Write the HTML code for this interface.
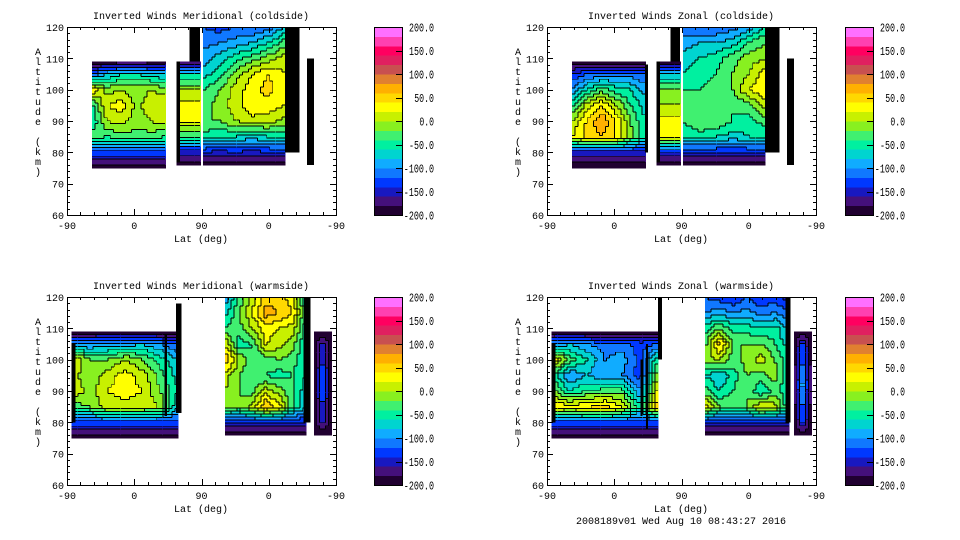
<!DOCTYPE html>
<html><head><meta charset="utf-8">
<style>
html,body{margin:0;padding:0;background:#fff;}
svg{display:block;font-family:"Liberation Mono","DejaVu Sans Mono",monospace;}
</style></head>
<body>
<svg id="fig" width="960" height="540" viewBox="0 0 960 540" xmlns="http://www.w3.org/2000/svg"></svg>
<script>
// ---- colour levels (-200..200, 20 bands, bottom to top) ----
const levelColors=["#200030","#44107a","#1818c0","#0038ff","#1078ff","#10acff","#00d4d0","#00f0a0","#40f070","#88f020","#c8f000","#ffff00","#ffd800","#ffb000","#e08030","#c85050","#e02060","#ff0060","#ff40b0","#ff70ff"];
const colorbarLabels=["200.0","150.0","100.0","50.0","0.0","-50.0","-100.0","-150.0","-200.0"];
const xTickLabels=["-90","0","90","0","-90"];
const yTickLabels=["60","70","80","90","100","110","120"];

// ---- Panel 1: meridional coldside ----
const p1AAlts=[75,80,85,90,95,100,105,109];
const p1AVals=[[-195],[-130],[-30,-40,-30,-30,-30,-40],[-60,0,10,-10,0,10],[-50,20,30,-5,10,20],[40,-10,0,-10,0,-10],[-120,-80,-60,-60,-70,-80],[-195]];
const p1BAlts=[76,80,85,90,95,100,105,109];
const p1BVals=[[-195],[-150],[-40],[20],[30],[0],[-60],[-195]];
const p1CAlts=[76,80,85,90,95,100,105,110,115,120];
const p1CVals=[[-195],[-140,-150,-140,-150,-140,-140],[-50,-60,-60,-70,-60,-60],[-20,-20,0,10,10,-10],[-30,-10,10,40,30,20],[-40,-20,10,30,50,20],[-70,-50,-10,20,40,20],[-90,-70,-50,-30,-10,10],[-110,-100,-90,-80,-60,-30],[-120,-130,-120,-120,-110,-80]];
const p1Black=[[1.63,1.68,77,109],[1.82,1.98,109,120],[3.24,3.46,80,120],[3.57,3.67,76,110]];

// ---- Panel 2: zonal coldside ----
const p2AAlts=[75,80,85,90,95,100,105,109];
const p2AVals=[[-195],[-150],[20,50,60,40,-10,-60],[0,40,80,40,-20,-60],[-50,10,40,0,-40,-70],[-100,-60,-30,-50,-60,-90],[-140,-120,-110,-110,-110,-120],[-195]];
const p2BAlts=[76,80,85,90,95,100,105,109];
const p2BVals=[[-195],[-150],[40],[30],[0],[-10],[-80],[-195]];
const p2CAlts=[76,80,85,90,95,100,105,110,115,120];
const p2CVals=[[-195],[-140],[-60,-50,-60,-70,-60,-60],[-40,-20,-20,-40,-50,-30],[-40,-30,-40,-40,-30,10],[-40,-40,-30,-20,20,40],[-60,-50,-40,-20,0,30],[-70,-60,-50,-30,-10,0],[-90,-80,-80,-70,-40,-20],[-110,-120,-120,-110,-90,-60]];
const p2Black=[[1.46,1.5,80,108],[1.63,1.68,77,109],[1.84,1.98,109,120],[3.24,3.46,80,120],[3.57,3.67,76,110]];

// ---- Panel 3: meridional warmside ----
const p3AAlts=[75,80,85,90,95,100,105,109];
const p3AVals=[[-195],[-130],[-30,-20,10,10,10,0,-80],[20,-10,20,30,20,-20,-60],[10,-20,10,30,10,-30,-70],[30,-20,-20,0,-20,-50,-80],[-100,-100,-90,-90,-80,-100,-120],[-195]];
const p3CAlts=[76,80,85,90,95,100,105,110,115,120];
const p3CVals=[[-195],[-140],[-10,-20,10,60,30,-40,-80],[0,-20,-30,10,-10,-40,-70],[10,-20,-30,-40,-50,-40,-60],[60,0,-40,-30,-20,-30,-60],[20,-50,-40,20,10,-10,-60],[-40,-30,0,30,20,10,-50],[-70,-20,20,70,60,40,-40],[-100,-40,10,50,50,30,-60]];
const p3DAlts=[76,80,92,105,109];
const p3DVals=[[-195],[-195,-150,-195],[-195,-110,-195],[-195,-150,-195],[-195]];
const p3Black=[[0.07,0.13,80,105],[1.45,1.49,82,108],[1.62,1.7,83,118],[3.52,3.62,80,120]];

// ---- Panel 4: zonal warmside ----
const p4AAlts=[75,80,85,90,95,100,105,109];
const p4AVals=[[-195],[-130],[40,30,40,50,20,-60,60],[-10,-60,-40,-30,-30,-100,30],[-40,-100,-80,-100,-100,-130,0],[40,-30,-60,-100,-90,-130,-40],[-100,-80,-100,-110,-110,-130,-120],[-195]];
const p4CAlts=[76,80,85,90,95,100,105,110,115,120];
const p4CVals=[[-195],[-140],[30,-20,-20,-20,20,10,-60],[-30,-60,-40,-20,-60,-30,-60],[-60,-80,-50,-20,-30,-10,-60],[-10,0,-30,-10,10,-20,-60],[-30,50,-20,-20,-20,-40,-70],[-50,-20,-50,-50,-60,-50,-90],[-100,-90,-100,-90,-110,-100,-120],[-120,-130,-140,-120,-140,-130,-150]];
const p4DAlts=[76,80,92,105,109];
const p4DVals=[[-195],[-195,-130,-195],[-195,-80,-195],[-195,-130,-195],[-195]];
const p4Black=[[0.07,0.13,80,105],[1.39,1.42,82,100],[1.47,1.5,78,105],[1.65,1.71,100,120],[3.55,3.62,80,120]];

const panels=[
 {ox:0,oy:0,name:"meridional-coldside",title:"Inverted Winds Meridional (coldside)",blocks:[{u:[0.37,1.46],alts:p1AAlts,vals:p1AVals},{u:[1.63,1.98],alts:p1BAlts,vals:p1BVals},{u:[2.02,3.24],alts:p1CAlts,vals:p1CVals}],black:p1Black},
 {ox:480,oy:0,name:"zonal-coldside",title:"Inverted Winds Zonal (coldside)",blocks:[{u:[0.37,1.46],alts:p2AAlts,vals:p2AVals},{u:[1.63,1.98],alts:p2BAlts,vals:p2BVals},{u:[2.02,3.24],alts:p2CAlts,vals:p2CVals}],black:p2Black},
 {ox:0,oy:270,name:"meridional-warmside",title:"Inverted Winds Meridional (warmside)",blocks:[{u:[0.07,1.65],alts:p3AAlts,vals:p3AVals},{u:[2.35,3.55],alts:p3CAlts,vals:p3CVals},{u:[3.67,3.93],alts:p3DAlts,vals:p3DVals}],black:p3Black},
 {ox:480,oy:270,name:"zonal-warmside",title:"Inverted Winds Zonal (warmside)",blocks:[{u:[0.07,1.65],alts:p4AAlts,vals:p4AVals},{u:[2.35,3.6],alts:p4CAlts,vals:p4CVals},{u:[3.67,3.93],alts:p4DAlts,vals:p4DVals}],black:p4Black}
];

const NS="http://www.w3.org/2000/svg";
const svg=document.getElementById('fig');
function mk(tag,attrs,parent){const e=document.createElementNS(NS,tag);for(const k in attrs)e.setAttribute(k,attrs[k]);(parent||svg).appendChild(e);return e;}
const PX0=67,PX1=336,PY0=27,PY1=215;
function xs(p,u){return p.ox+PX0+u*(PX1-PX0)/4;}
function ys(p,a){return p.oy+PY1-(a-60)*(PY1-PY0)/60;}
function band(v){return Math.max(0,Math.min(19,Math.floor((v+200)/20)));}
function rowVal(row,t){if(row.length===1)return row[0];const f=t*(row.length-1);const i=Math.min(row.length-2,Math.floor(f));const r=f-i;return row[i]*(1-r)+row[i+1]*r;}
function sample(b,t,a){const al=b.alts;let j=0;while(j<al.length-2&&a>al[j+1])j++;const r=Math.max(0,Math.min(1,(a-al[j])/(al[j+1]-al[j])));return rowVal(b.vals[j],t)*(1-r)+rowVal(b.vals[j+1],t)*r;}

const CELL=3;
const FS='10';
panels.forEach(p=>{
 const g=mk('g',{});
 
 
 const t=mk('text',{x:p.ox+201,y:p.oy+19,'text-anchor':'middle','font-size':FS},g);t.textContent=p.title;
 
 
 const plot=mk('g',{'shape-rendering':'crispEdges'},g);
 
 
 p.blocks.forEach(b=>{
  const x0=xs(p,b.u[0]),x1=xs(p,b.u[1]);
  const a0=b.alts[0],a1=b.alts[b.alts.length-1];
  const y0=ys(p,a1),y1=ys(p,a0);
  const nx=Math.max(2,Math.round((x1-x0)/CELL)),ny=Math.max(2,Math.round((y1-y0)/CELL));
  const cw=(x1-x0)/nx,ch=(y1-y0)/ny;
  const grid=[];
  for(let j=0;j<ny;j++){grid.push([]);for(let i=0;i<nx;i++){
   const tt=(i+0.5)/nx;const a=a1-(j+0.5)/ny*(a1-a0);
   grid[j].push(band(sample(b,tt,a)));}}
  const bg=mk('g',{},plot);
  
  
  for(let j=0;j<ny;j++)for(let i=0;i<nx;i++){
   mk('rect',{x:(x0+i*cw).toFixed(2),y:(y0+j*ch).toFixed(2),width:(cw+0.6).toFixed(2),height:(ch+0.6).toFixed(2),fill:levelColors[grid[j][i]]},bg);}
  let d='';
  for(let j=0;j<ny;j++)for(let i=0;i<nx;i++){
   if(i<nx-1&&grid[j][i]!==grid[j][i+1])d+='M'+(x0+(i+1)*cw).toFixed(1)+' '+(y0+j*ch).toFixed(1)+'v'+ch.toFixed(1);
   if(j<ny-1&&grid[j][i]!==grid[j+1][i])d+='M'+(x0+i*cw).toFixed(1)+' '+(y0+(j+1)*ch).toFixed(1)+'h'+cw.toFixed(1);}
  const cl=mk('path',{d:d,stroke:'#000','stroke-width':'0.9',fill:'none'},bg);
  
  
 });
 p.black.forEach(k=>{
  const r=mk('rect',{x:xs(p,k[0]),y:ys(p,k[3]),width:xs(p,k[1])-xs(p,k[0]),height:ys(p,k[2])-ys(p,k[3]),fill:'#000'},plot);
  
  
 });
 const ax=mk('g',{stroke:'#000','stroke-width':'1',fill:'none','shape-rendering':'crispEdges'},g);
 
 
 mk('rect',{x:p.ox+PX0+0.5,y:p.oy+PY0+0.5,width:PX1-PX0,height:PY1-PY0},ax);
 let d='';
 for(let k=0;k<=20;k++){const x=Math.round(xs(p,k/5))+0.5;const L=(k%5===0)?6:3;d+=`M${x} ${p.oy+PY1}v${-L}M${x} ${p.oy+PY0}v${L}`;}
 for(let a=60;a<=120;a+=2){const y=Math.round(ys(p,a))+0.5;const L=(a%10===0)?6:3;d+=`M${p.ox+PX0} ${y}h${L}M${p.ox+PX1} ${y}h${-L}`;}
 mk('path',{d:d},ax);
 xTickLabels.forEach((s,k)=>{const e=mk('text',{x:xs(p,k),y:p.oy+229,'text-anchor':'middle','font-size':FS},g);e.textContent=s;
  
  });
 yTickLabels.forEach((s,k)=>{const e=mk('text',{x:p.ox+64,y:ys(p,60+10*k)+4,'text-anchor':'end','font-size':FS},g);e.textContent=s;
  
  });
 const xl=mk('text',{x:p.ox+201,y:p.oy+242,'text-anchor':'middle','font-size':FS},g);xl.textContent='Lat (deg)';
 
 
 const yl=mk('g',{},g);
 
 
 'Altitude (km)'.split('').forEach((c,i)=>{const e=mk('text',{x:p.ox+38,y:p.oy+55+i*10,'text-anchor':'middle','font-size':FS},yl);e.textContent=c;});
 const cb=mk('g',{'shape-rendering':'crispEdges'},g);
 
 
 const cx=p.ox+(p.ox?365:374),cwid=28,ch=(PY1-PY0)/20;
 levelColors.forEach((c,i)=>{mk('rect',{x:cx,y:p.oy+PY1-(i+1)*ch,width:cwid,height:ch+0.5,fill:c},cb);});
 mk('rect',{x:cx+0.5,y:p.oy+PY0+0.5,width:cwid,height:PY1-PY0,fill:'none',stroke:'#000'},cb);
 let td='';
 colorbarLabels.forEach((s,k)=>{const y=p.oy+PY0+k*(PY1-PY0)/8;
  if(k>0&&k<8)td+=`M${cx+cwid} ${Math.round(y)+0.5}h-6`;
  const w=s.length*5.2-1;
  const e=mk('text',{x:cx+60-w,y:y+4.5,'font-size':'12',textLength:w,lengthAdjust:'spacingAndGlyphs'},g);e.textContent=s;
  
  });
 mk('path',{d:td,stroke:'#000'},cb);
});
const ft=mk('text',{x:681,y:524,'text-anchor':'middle','font-size':FS});
ft.textContent='2008189v01 Wed Aug 10 08:43:27 2016';


</script>
</body></html>
